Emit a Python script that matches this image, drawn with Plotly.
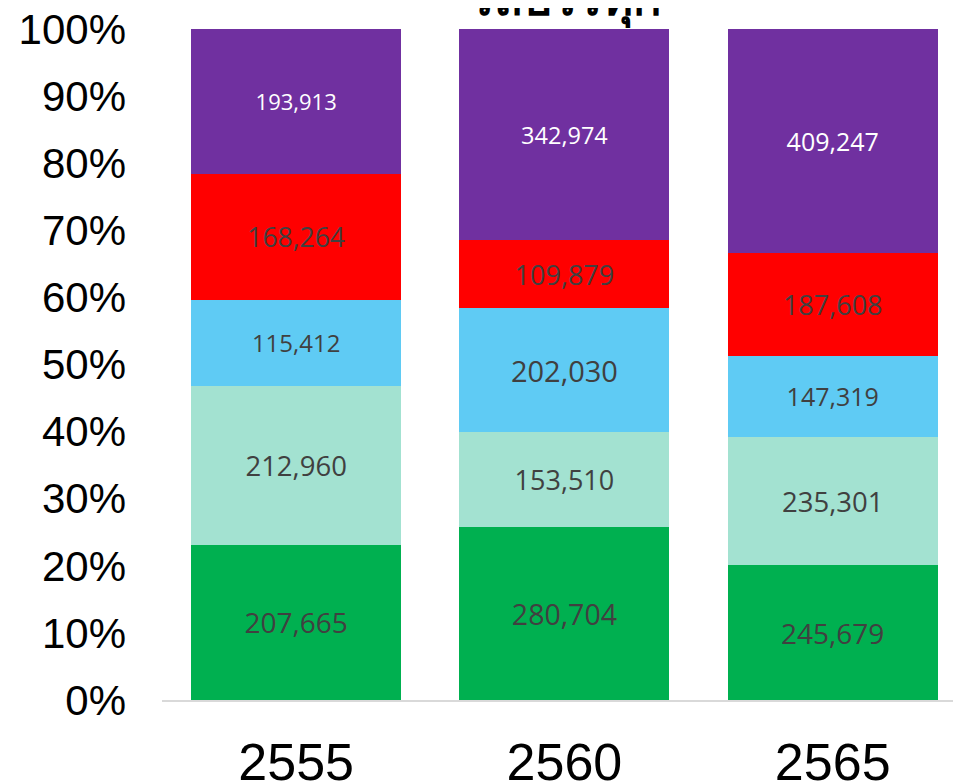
import plotly.graph_objects as go

years = ["2555", "2560", "2565"]
series_names = ["กลุ่มที่ 1", "กลุ่มที่ 2", "กลุ่มที่ 3", "กลุ่มที่ 4", "กลุ่มที่ 5"]
green_vals = [207665, 280704, 245679]
teal_vals = [212960, 153510, 235301]
blue_vals = [115412, 202030, 147319]
red_vals = [168264, 109879, 187608]
purple_vals = [193913, 342974, 409247]
y_tick_vals = [0, 10, 20, 30, 40, 50, 60, 70, 80, 90, 100]
y_tick_text = [f"{v}%" for v in y_tick_vals]
title_text = "รถบรรทุก"

series = [green_vals, teal_vals, blue_vals, red_vals, purple_vals]
colors = ["#00B050", "#A3E2D1", "#5FCBF4", "#FF0000", "#7030A0"]
text_colors = ["#404040", "#404040", "#404040", "#404040", "#FFFFFF"]
text_sizes = [[28, 28.5, 28], [27.5, 27, 27.5], [24, 29, 25], [26.5, 27, 27], [22, 23.5, 25]]

fig = go.Figure()
for name, vals, col, tcol, tsz in zip(series_names, series, colors, text_colors, text_sizes):
    fig.add_trace(go.Bar(
        x=years, y=vals, name=name,
        marker=dict(color=col, line=dict(width=0)),
        text=[f"{v:,}" for v in vals],
        texttemplate="%{text}",
        textposition="inside",
        insidetextanchor="middle",
        textangle=0,
        constraintext="none",
        textfont=dict(family="Open Sans", size=tsz, color=tcol),
        hoverinfo="skip",
    ))

# page has an 8px body margin, so margins are offset by 8px
fig.update_layout(
    width=961, height=784,
    barmode="stack", barnorm="percent", bargap=0.217,
    margin=dict(l=154, r=0, t=21, b=92, autoexpand=False),
    plot_bgcolor="white", paper_bgcolor="white",
    showlegend=False,
    xaxis=dict(
        type="category", range=[-0.5, 2.508], automargin=False,
        showline=True, linecolor="#D9D9D9", linewidth=1.5,
        ticks="", showgrid=False, zeroline=False,
        tickfont=dict(family="Liberation Sans, Arial", size=52, color="black"),
        ticklabelstandoff=16, ticklabeloverflow="allow",
    ),
    yaxis=dict(
        range=[0, 100], tickmode="array", tickvals=y_tick_vals, ticktext=y_tick_text,
        automargin=False,
        showgrid=False, zeroline=False, showline=False, ticks="",
        tickfont=dict(family="Liberation Sans, Arial", size=42, color="black"),
        ticklabelstandoff=35, ticklabeloverflow="allow",
    ),
    annotations=[dict(
        text=f"<b>{title_text}</b>", xref="paper", yref="paper",
        x=403 / 807, y=1, xanchor="center", yanchor="bottom",
        yshift=-2, showarrow=False,
        font=dict(size=47, color="black"),
    )],
)

fig.write_html("out.html")
